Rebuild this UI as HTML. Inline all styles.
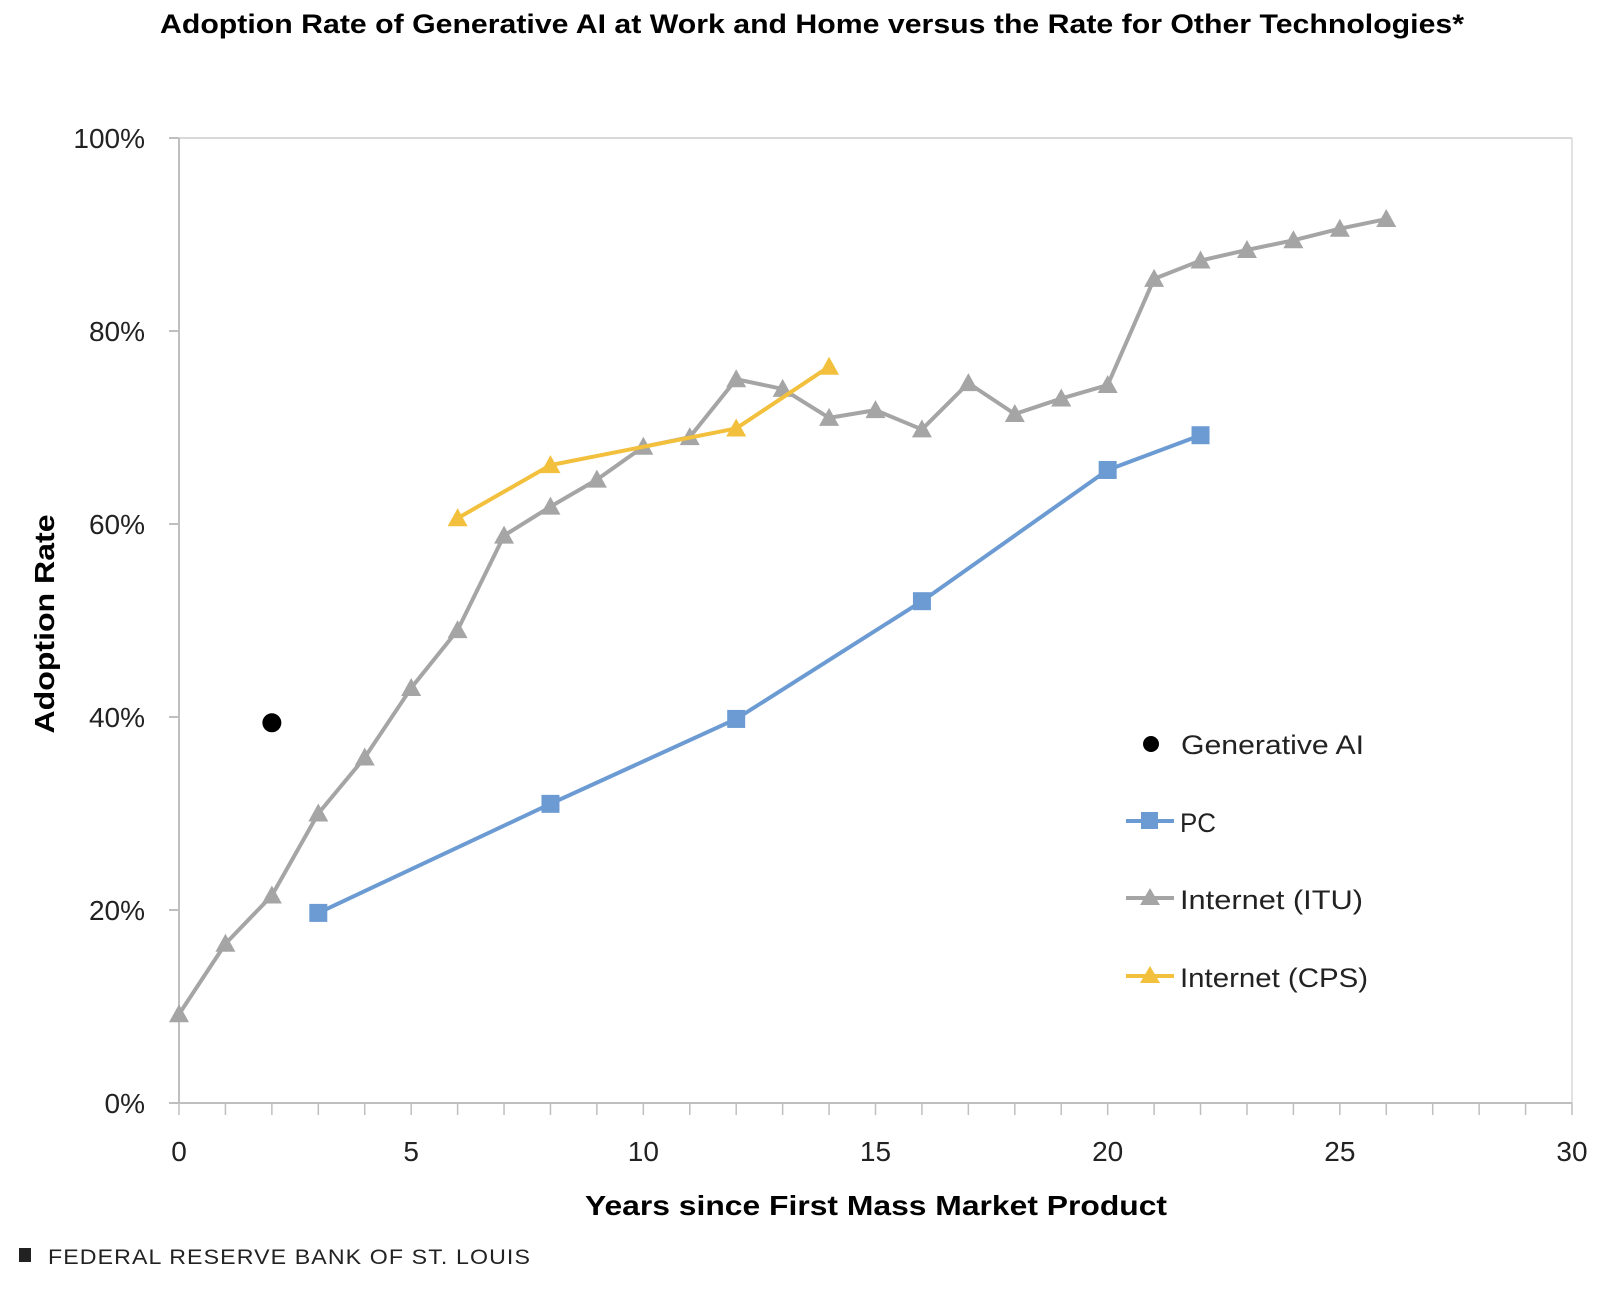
<!DOCTYPE html>
<html><head><meta charset="utf-8"><style>
html,body{margin:0;padding:0;background:#fff;}
svg{display:block;}
</style></head><body>
<svg id="chart" width="1623" height="1289" viewBox="0 0 1623 1289" xmlns="http://www.w3.org/2000/svg" font-family="'Liberation Sans', sans-serif">
<text x="812" y="33" text-anchor="middle" font-size="27" font-weight="bold" textLength="1304" lengthAdjust="spacingAndGlyphs">Adoption Rate of Generative AI at Work and Home versus the Rate for Other Technologies*</text>
<g id="axes"></g>
<g id="series"></g>
<g font-size="27" fill="#222">
  <circle cx="1151" cy="744" r="8" fill="#000"/>
  <text x="1181" y="754" textLength="183" lengthAdjust="spacingAndGlyphs">Generative AI</text>
  <line x1="1126" y1="821" x2="1174" y2="821" stroke="#6b9bd2" stroke-width="4"/>
  <rect x="1141" y="812" width="17" height="17" fill="#6b9bd2"/>
  <text x="1180" y="832" textLength="36" lengthAdjust="spacingAndGlyphs">PC</text>
  <line x1="1126" y1="898" x2="1174" y2="898" stroke="#a5a5a5" stroke-width="4"/>
  <polygon points="1150,888 1160,905 1140,905" fill="#a5a5a5"/>
  <text x="1180" y="909" textLength="183" lengthAdjust="spacingAndGlyphs">Internet (ITU)</text>
  <line x1="1126" y1="976" x2="1174" y2="976" stroke="#f2c03c" stroke-width="4"/>
  <polygon points="1150,966 1160,983 1140,983" fill="#f2c03c"/>
  <text x="1180" y="987" textLength="188" lengthAdjust="spacingAndGlyphs">Internet (CPS)</text>
</g>
<text x="876" y="1215" text-anchor="middle" font-size="28" font-weight="bold" textLength="582" lengthAdjust="spacingAndGlyphs">Years since First Mass Market Product</text>
<text transform="translate(54,624) rotate(-90)" text-anchor="middle" font-size="28" font-weight="bold" textLength="219" lengthAdjust="spacingAndGlyphs">Adoption Rate</text>
<rect x="19" y="1248" width="12" height="14" fill="#222"/>
<text x="48" y="1264" font-size="21" fill="#222" letter-spacing="1" textLength="483" lengthAdjust="spacingAndGlyphs">FEDERAL RESERVE BANK OF ST. LOUIS</text>
</svg>
<script>
const ituYears=[0,1,2,3,4,5,6,7,8,9,10,11,12,13,14,15,16,17,18,19,20,21,22,23,24,25,26];
const ituValues=[9.2,16.5,21.5,30,35.8,43,49,58.8,61.8,64.6,68,69,75,74,71,71.8,69.8,74.6,71.4,73,74.4,85.4,87.3,88.4,89.4,90.6,91.6];
const pcYears=[3,8,12,16,20,22];
const pcValues=[19.7,31,39.8,52,65.6,69.2];
const cpsYears=[6,8,12,14];
const cpsValues=[60.6,66.1,69.9,76.3];
const genaiYears=[2];
const genaiValues=[39.4];
const xTicks=[0,5,10,15,20,25,30];
const yTicks=[0,20,40,60,80,100];

const NS='http://www.w3.org/2000/svg';
const X0=179,X1=1572,Y0=1103,Y1=138;
const xs=v=>X0+(v/30)*(X1-X0);
const ys=v=>Y0-(v/100)*(Y0-Y1);
function mk(tag,attrs,parent){const e=document.createElementNS(NS,tag);for(const k in attrs)e.setAttribute(k,attrs[k]);parent.appendChild(e);return e;}
const axes=document.getElementById('axes');
const series=document.getElementById('series');

mk('line',{x1:X0,y1:Y1,x2:X1,y2:Y1,stroke:'#d9d9d9','stroke-width':2},axes);
mk('line',{x1:X1,y1:Y1,x2:X1,y2:Y0,stroke:'#d9d9d9','stroke-width':1.5},axes);
const yAxis=mk('line',{x1:X0,y1:Y1,x2:X0,y2:Y0,stroke:'#bfbfbf','stroke-width':2},axes);


const xAxis=mk('line',{x1:X0-10,y1:Y0,x2:X1,y2:Y0,stroke:'#bfbfbf','stroke-width':2},axes);


for(let i=0;i<=30;i++){mk('line',{x1:xs(i),y1:Y0,x2:xs(i),y2:Y0+12,stroke:'#bfbfbf','stroke-width':1.5},axes);}
yTicks.forEach(t=>{
  mk('line',{x1:X0-10,y1:ys(t),x2:X0,y2:ys(t),stroke:'#bfbfbf','stroke-width':2},axes);
  const tx=mk('text',{x:145,y:ys(t)+10,'text-anchor':'end','font-size':28,fill:'#222'},axes);
  tx.textContent=t+'%';
  
  
});
xTicks.forEach(t=>{
  const tx=mk('text',{x:xs(t),y:1161,'text-anchor':'middle','font-size':28,fill:'#222'},axes);
  tx.textContent=t;
  
  
});

function drawLine(xsA,vals,color,name){
  const pts=xsA.map((x,i)=>xs(x)+','+ys(vals[i])).join(' ');
  const pl=mk('polyline',{points:pts,fill:'none',stroke:color,'stroke-width':4,'stroke-linejoin':'round'},series);
  
  
}
function tri(x,y,color,name){
  const p=mk('polygon',{points:`${x},${y-10} ${x+10},${y+8} ${x-10},${y+8}`,fill:color},series);
  
  
}
drawLine(ituYears,ituValues,'#a5a5a5','itu');
ituYears.forEach((x,i)=>tri(xs(x),ys(ituValues[i]),'#a5a5a5','itu-point'));
drawLine(pcYears,pcValues,'#6b9bd2','pc');
pcYears.forEach((x,i)=>{
  const r=mk('rect',{x:xs(x)-9,y:ys(pcValues[i])-9,width:18,height:18,fill:'#6b9bd2'},series);
  
  
});
drawLine(cpsYears,cpsValues,'#f2c03c','cps');
cpsYears.forEach((x,i)=>tri(xs(x),ys(cpsValues[i]),'#f2c03c','cps-point'));
genaiYears.forEach((x,i)=>{
  const c=mk('circle',{cx:xs(x),cy:ys(genaiValues[i]),r:9.5,fill:'#000'},series);
  
  
});
</script>
</body></html>
